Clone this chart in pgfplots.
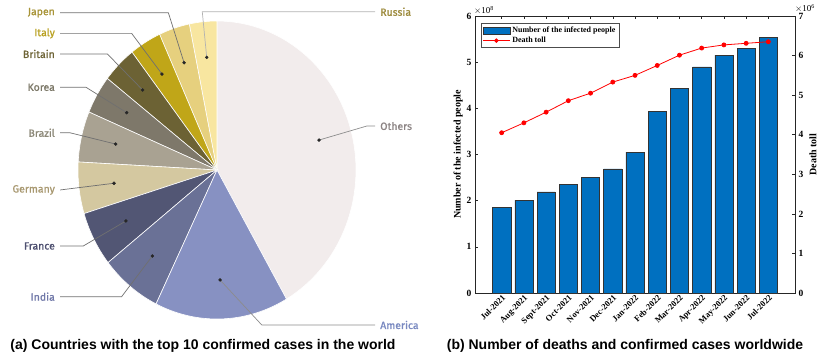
\documentclass[border=0pt]{standalone}
\usepackage{fontspec}
\setmainfont{Liberation Serif}
\newfontfamily\capfont{Liberation Sans}
\newfontfamily\piefont[UprightFeatures={FakeBold=1}]{Fira Sans}
\usepackage{pgfplots}
\pgfplotsset{compat=1.18}

% pie slice colours
\definecolor{cOthers}{HTML}{F2ECEC}
\definecolor{cAmerica}{HTML}{8791C2}
\definecolor{cIndia}{HTML}{6A7196}
\definecolor{cFrance}{HTML}{525674}
\definecolor{cGermany}{HTML}{D4C8A0}
\definecolor{cBrazil}{HTML}{A9A292}
\definecolor{cKorea}{HTML}{7E786A}
\definecolor{cBritain}{HTML}{6C6234}
\definecolor{cItaly}{HTML}{C0A618}
\definecolor{cJapen}{HTML}{E6D07E}
\definecolor{cRussia}{HTML}{F8E6A0}
% label colours
\definecolor{tRussia}{HTML}{9C8A3C}
\definecolor{tJapen}{HTML}{A89438}
\definecolor{tItaly}{HTML}{B8A020}
\definecolor{tBritain}{HTML}{6E6436}
\definecolor{tKorea}{HTML}{7C7868}
\definecolor{tBrazil}{HTML}{8C8878}
\definecolor{tGermany}{HTML}{A89870}
\definecolor{tFrance}{HTML}{4E5070}
\definecolor{tIndia}{HTML}{7078A8}
\definecolor{tAmerica}{HTML}{7888C0}
\definecolor{tOthers}{HTML}{8C8484}
\definecolor{leader}{HTML}{707070}
\definecolor{barblue}{HTML}{0070C0}

\tikzset{lab/.style={font=\piefont\fontsize{10.5}{12}\selectfont, inner sep=0pt}}
\pgfplotsset{
  barlegend/.style={legend image code/.code={\draw[##1] (0pt,-3.5pt) rectangle (27pt,3.5pt);}},
  linelegend/.style={legend image code/.code={\draw[mark repeat=2, mark phase=2, ##1] plot coordinates {(0pt,0pt) (13.5pt,0pt) (27pt,0pt)};}},
}

\begin{document}
\begin{tikzpicture}
\path[use as bounding box] (0,0) rectangle (830pt,-359pt);

% ---------------- (a) pie ----------------
\begin{axis}[
  at={(217pt,-170pt)}, anchor=center,
  x=139pt, y=149pt,
  xmin=-1, xmax=1, ymin=-1, ymax=1,
  hide axis, clip=false,
]
\pgfplotsset{wedge/.style={draw=white, line width=0.6pt, samples=60}}
% slice angles in degrees, counter-clockwise from the x axis
\addplot[wedge, fill=cOthers,  domain=-60:90]    ({cos(x)},{sin(x)}) -- (0,0) -- cycle;
\addplot[wedge, fill=cRussia,  domain=90:101.5]  ({cos(x)},{sin(x)}) -- (0,0) -- cycle;
\addplot[wedge, fill=cJapen,   domain=101.5:114.4] ({cos(x)},{sin(x)}) -- (0,0) -- cycle;
\addplot[wedge, fill=cItaly,   domain=114.4:127.7] ({cos(x)},{sin(x)}) -- (0,0) -- cycle;
\addplot[wedge, fill=cBritain, domain=127.7:142.1] ({cos(x)},{sin(x)}) -- (0,0) -- cycle;
\addplot[wedge, fill=cKorea,   domain=142.1:157.1] ({cos(x)},{sin(x)}) -- (0,0) -- cycle;
\addplot[wedge, fill=cBrazil,  domain=157.1:176.9] ({cos(x)},{sin(x)}) -- (0,0) -- cycle;
\addplot[wedge, fill=cGermany, domain=176.9:197]   ({cos(x)},{sin(x)}) -- (0,0) -- cycle;
\addplot[wedge, fill=cFrance,  domain=197:218.4]   ({cos(x)},{sin(x)}) -- (0,0) -- cycle;
\addplot[wedge, fill=cIndia,   domain=218.4:244]   ({cos(x)},{sin(x)}) -- (0,0) -- cycle;
\addplot[wedge, fill=cAmerica, domain=244:300]     ({cos(x)},{sin(x)}) -- (0,0) -- cycle;

% leader lines
\pgfplotsset{lead/.style={leader, line width=0.7pt, mark=none}}
\addplot[lead, color=black!30] coordinates {(-0.074,0.756) (-0.106,1.062) (1.137,1.062)};
\addplot[lead] coordinates {(-0.237,0.720) (-0.350,1.056) (-1.129,1.056)};
\addplot[lead] coordinates {(-0.396,0.644) (-0.614,0.917) (-1.129,0.917)};
\addplot[lead] coordinates {(-0.535,0.537) (-0.789,0.779) (-1.129,0.779)};
\addplot[lead] coordinates {(-0.650,0.385) (-0.942,0.555) (-1.129,0.555)};
\addplot[lead] coordinates {(-0.729,0.174) (-1.058,0.250) (-1.129,0.250)};
\addplot[lead] coordinates {(-0.741,-0.089) (-1.129,-0.134)};
\addplot[lead] coordinates {(-0.655,-0.342) (-0.962,-0.510) (-1.129,-0.510)};
\addplot[lead] coordinates {(-0.465,-0.577) (-0.686,-0.850) (-1.129,-0.850)};
\addplot[lead, color=black!45] coordinates {(0.022,-0.738) (0.322,-1.040) (1.137,-1.040)};
\addplot[lead, color=black!45] coordinates {(0.734,0.201) (1.077,0.295) (1.137,0.295)};
% dots
\addplot[only marks, mark=*, mark size=1.5pt, black!85] coordinates {
  (-0.074,0.756) (-0.237,0.720) (-0.396,0.644) (-0.535,0.537) (-0.650,0.385)
  (-0.729,0.174) (-0.741,-0.089) (-0.655,-0.342) (-0.465,-0.577) (0.022,-0.738) (0.734,0.201)};

\node[lab, anchor=west, text=tRussia]  at (1.173,1.062) {Russia};
\node[lab, anchor=east, text=tJapen]   at (-1.165,1.056) {Japen};
\node[lab, anchor=east, text=tItaly]   at (-1.165,0.917) {Italy};
\node[lab, anchor=east, text=tBritain] at (-1.165,0.779) {Britain};
\node[lab, anchor=east, text=tKorea]   at (-1.165,0.555) {Korea};
\node[lab, anchor=east, text=tBrazil]  at (-1.165,0.250) {Brazil};
\node[lab, anchor=east, text=tGermany] at (-1.165,-0.134) {Germany};
\node[lab, anchor=east, text=tFrance]  at (-1.165,-0.510) {France};
\node[lab, anchor=east, text=tIndia]   at (-1.165,-0.850) {India};
\node[lab, anchor=west, text=tAmerica] at (1.173,-1.040) {America};
\node[lab, anchor=west, text=tOthers]  at (1.173,0.295) {Others};
\end{axis}

% ---------------- (b) bars + line ----------------
\pgfplotsset{rightax/.style={
  at={(475pt,-293pt)}, anchor=south west,
  scale only axis, width=320pt, height=277pt,
  xmin=-1.2, xmax=13.2,
  tick align=inside, major tick length=3pt,
  axis line style={black!85, line width=0.5pt},
  every tick/.style={black!85, line width=0.5pt},
  /pgf/number format/assume math mode=true,
  yticklabel style={font=\bfseries\fontsize{9.5}{10}\selectfont},
  ylabel style={font=\bfseries\fontsize{10}{11}\selectfont},
}}
\begin{axis}[rightax,
  ymin=0, ymax=6, ytick={0,...,6}, ytick pos=left,
  xtick={0,...,12}, xtick pos=both,
  xticklabels={Jul-2021,Aug-2021,Sept-2021,Oct-2021,Nov-2021,Dec-2021,Jan-2022,Feb-2022,Mar-2022,Apr-2022,May-2022,Jun-2022,Jul-2022},
  xticklabel style={rotate=45, anchor=north east, font=\bfseries\fontsize{8.5}{9}\selectfont, inner sep=1pt},
  ylabel={Number of the infected people},
  ylabel style={at={(axis description cs:-0.053,0.5)}, anchor=center},
  legend style={at={(0.018,0.974)}, anchor=north west, draw=black!70, line width=0.5pt,
    font=\bfseries\fontsize{8}{9}\selectfont, inner sep=1.5pt, row sep=-1pt,
    cells={anchor=west}},
  legend cell align=left,
]
\addplot[ybar, bar width=0.82, fill=barblue, draw=black!80, line width=0.5pt, barlegend]
  coordinates {
  (0,1.86) (1,2.01) (2,2.19) (3,2.36) (4,2.50) (5,2.69) (6,3.05)
  (7,3.94) (8,4.44) (9,4.90) (10,5.15) (11,5.30) (12,5.53)};
\addlegendentry{Number of the infected people}
\addlegendimage{red, line width=0.8pt, mark=*, mark size=1.8pt, mark options={fill=red}, linelegend}
\addlegendentry{Death toll}
\end{axis}

\begin{axis}[rightax,
  ymin=0, ymax=7, ytick={0,...,7},
  axis y line*=right, axis x line=none,
  ylabel={Death toll},
  ylabel style={at={(axis description cs:1.056,0.5)}, anchor=center, rotate=0},
]
\addplot[red, line width=0.8pt, mark=*, mark size=2pt, mark options={fill=red}] coordinates {
  (0,4.05) (1,4.30) (2,4.57) (3,4.86) (4,5.05) (5,5.33) (6,5.50)
  (7,5.75) (8,6.01) (9,6.19) (10,6.27) (11,6.31) (12,6.35)};
\end{axis}

% axis multipliers
\node[anchor=south west, inner sep=0pt, font=\fontsize{9}{10}\selectfont] at (474pt,-15pt) {$\times$10\textsuperscript{8}};
\node[anchor=south west, inner sep=0pt, font=\fontsize{9}{10}\selectfont] at (795pt,-13pt) {$\times$10\textsuperscript{6}};

% captions
\node[font=\capfont\bfseries\fontsize{14}{16}\selectfont] at (203pt,-346pt) {(a) Countries with the top 10 confirmed cases in the world};
\node[font=\capfont\bfseries\fontsize{14}{16}\selectfont] at (625pt,-346pt) {(b) Number of deaths and confirmed cases worldwide};
\end{tikzpicture}
\end{document}
